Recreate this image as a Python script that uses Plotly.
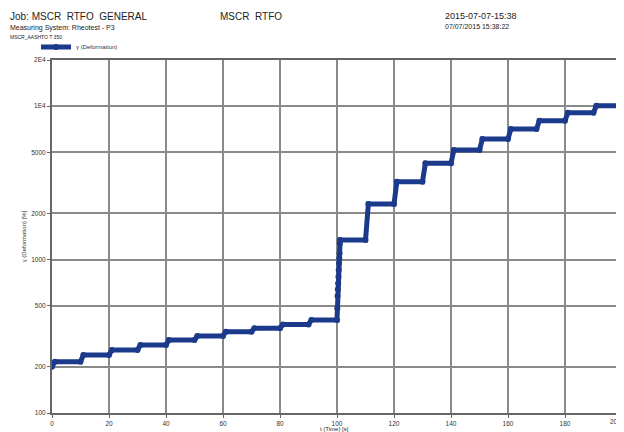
import plotly.graph_objects as go

# Data (time in s, deformation in %)
time_s = [0, 1, 10, 11, 20, 21, 30, 31, 40, 41, 50, 51, 60, 61, 70, 71, 80, 81, 90, 91, 100,
          100.1, 100.2, 100.3, 100.4, 100.5, 100.6, 100.7, 100.8, 100.9, 101.0, 101.1,
          110, 111, 120, 121, 130, 131, 140, 141, 150, 151, 160, 161, 170, 171, 180, 181, 190, 191, 200]
deformation = [200, 216, 216, 239, 239, 257, 257, 277, 277, 299, 299, 318, 318, 339, 339, 357, 357, 378, 378, 404, 404,
               481, 579, 640, 700, 774, 855, 946, 1019, 1099, 1277, 1340,
               1340, 2300, 2300, 3220, 3220, 4240, 4240, 5180, 5180, 6110, 6110, 7100, 7100, 8040, 8040, 9070, 9070, 10070, 10070]

x_ticks = [0, 20, 40, 60, 80, 100, 120, 140, 160, 180, 200]
x_tick_labels = ["0", "20", "40", "60", "80", "100", "120", "140", "160", "180", "200"]
y_ticks = [100, 200, 500, 1000, 2000, 5000, 10000, 20000]
y_tick_labels = ["100", "200", "500", "1000", "2000", "5000", "1E4", "2E4"]

BLUE = "#1b3a8c"
FONT = "Liberation Sans, Arial, sans-serif"

# The page body adds an 8px offset; plot area in the reference spans x 52..622, y 60..413
OFF = 8
PL, PT, PW, PH = 52, 60, 570, 353

fig = go.Figure()
fig.add_trace(go.Scatter(
    x=time_s, y=deformation, mode="lines+markers", name="γ (Deformation)",
    line=dict(color=BLUE, width=5), marker=dict(color=BLUE, size=6),
))

axis_common = dict(showgrid=True, gridcolor="#8a8a8a", gridwidth=1.5,
                   showline=True, linecolor="#666666", linewidth=2, mirror=True,
                   ticks="outside", ticklen=3, tickcolor="#666666",
                   tickfont=dict(size=6.5, color="#333333", family=FONT), zeroline=False,
                   automargin=False)

# last x label is drawn separately so it stays inside the window edge
shown_x_labels = x_tick_labels[:-1] + [""]
fig.update_xaxes(range=[0, 200], tickvals=x_ticks, ticktext=shown_x_labels, **axis_common)
fig.update_yaxes(type="log", range=[2, 4.30103], tickvals=y_ticks, ticktext=y_tick_labels,
                 title=dict(text="γ (Deformation) [%]", font=dict(size=6, color="#333333", family=FONT), standoff=4),
                 **axis_common)

fig.add_annotation(text=x_tick_labels[-1], x=x_ticks[-1], xref="x", yref="paper", y=0,
                   xanchor="right", yanchor="top", yshift=-3, xshift=1, showarrow=False,
                   font=dict(size=6.5, color="#333333", family=FONT))

annotations = [
    dict(text="Job: MSCR  RTFO  GENERAL", x=8, y=16, size=10),
    dict(text="Measuring System: Rheotest - P3", x=8, y=28, size=7),
    dict(text="MSCR_AASHTO T 350", x=8, y=37, size=5),
    dict(text="MSCR  RTFO", x=218, y=16, size=10),
    dict(text="2015-07-07-15:38", x=443, y=16, size=9),
    dict(text="07/07/2015 15:38:22", x=443, y=26, size=7),
    dict(text="t (Time) [s]", x=318, y=429, size=6),
]
for a in annotations:
    fig.add_annotation(text=a["text"], xref="paper", yref="paper",
                       x=(a["x"] - PL) / PW, y=1 + (PT - a["y"]) / PH,
                       xanchor="left", yanchor="middle", showarrow=False,
                       font=dict(size=a["size"], color="#222222", family=FONT))

fig.update_layout(
    width=624, height=432,
    margin=dict(l=PL - OFF, r=624 - (PL - OFF) - PW, t=PT - OFF, b=432 - (PT - OFF) - PH, autoexpand=False),
    paper_bgcolor="white", plot_bgcolor="white",
    showlegend=True,
    legend=dict(x=(36 - PL) / PW, y=1 + (PT - 47) / PH, xanchor="left", yanchor="middle",
                font=dict(size=6, color="#333333", family=FONT), bgcolor="rgba(0,0,0,0)",
                itemwidth=30, tracegroupgap=0),
)

fig.write_html("out.html")
